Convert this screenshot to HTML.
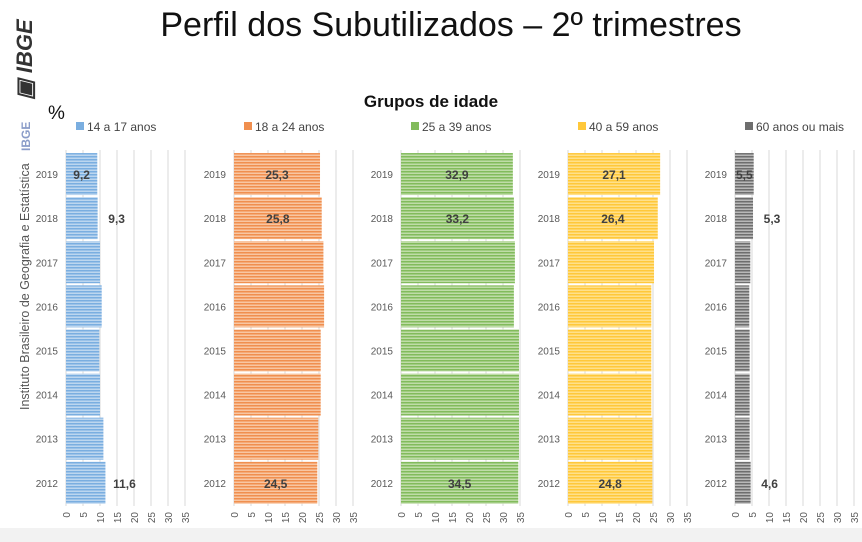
<!DOCTYPE html>
<html><head><meta charset="utf-8">
<style>
body{margin:0;width:862px;height:542px;overflow:hidden;background:#fff;font-family:"Liberation Sans",sans-serif;}
div{position:absolute;z-index:2;}
#title{left:0;width:862px;top:6px;text-align:center;font-size:34px;color:#111;padding-left:40px;box-sizing:border-box;}
#side{left:18px;top:410px;transform-origin:0 0;transform:rotate(-90deg);font-size:12.5px;color:#555;white-space:nowrap;}
#ibge2{left:19px;top:151px;transform-origin:0 0;transform:rotate(-90deg);font-size:12px;color:#8a9cc8;font-weight:bold;}
#logo{left:12px;top:100px;font-size:22px;font-weight:bold;font-style:italic;color:#333;transform:rotate(-90deg);transform-origin:0 0;white-space:nowrap;}
svg{position:absolute;left:0;top:0;z-index:1;}
</style></head><body>
<svg id="chart" width="862" height="542"></svg>
<div id="title">Perfil dos Subutilizados – 2º trimestres</div>
<div id="logo">▣ IBGE</div>
<div id="ibge2">IBGE</div>
<div id="side">Instituto Brasileiro de Geografia e Estatística</div>
<script>
const years=["2019","2018","2017","2016","2015","2014","2013","2012"];
const groups=["14 a 17 anos","18 a 24 anos","25 a 39 anos","40 a 59 anos","60 anos ou mais"];
const v1=[9.2,9.3,10.0,10.5,9.8,10.0,11.0,11.6];
const v2=[25.3,25.8,26.3,26.5,25.5,25.5,24.8,24.5];
const v3=[32.9,33.2,33.5,33.2,34.7,34.7,34.7,34.5];
const v4=[27.1,26.4,25.3,24.5,24.5,24.5,24.8,24.8];
const v5=[5.5,5.3,4.5,4.2,4.3,4.3,4.3,4.6];
const series=[v1,v2,v3,v4,v5];
const ticks=[0,5,10,15,20,25,30,35];
const labeled={0:"in",1:"out",7:"out"};
const colors=[["#7aaee0","#bcd6ef"],["#f08f4f","#f8c6a2"],["#82bb5c","#bfdca8"],["#ffc83a","#ffe08a"],["#6e6e6e","#b8b8b8"]];
const NS="http://www.w3.org/2000/svg";
const svg=document.getElementById('chart');
function mk(t,a,p){const e=document.createElementNS(NS,t);for(const k in a)e.setAttribute(k,a[k]);(p||svg).appendChild(e);return e;}
mk('rect',{x:0,y:528,width:862,height:14,fill:'#f2f2f2'});
mk('rect',{x:30,y:88,width:832,height:440,fill:'#fff'});
const pct=mk('text',{x:48,y:119,'font-size':19,fill:'#111'});pct.textContent='%';
const gt=mk('text',{x:431,y:107,'font-size':17,'font-weight':'bold','text-anchor':'middle',fill:'#111'});gt.textContent='Grupos de idade';
const defs=mk('defs',{});
colors.forEach((c,i)=>{const p=mk('pattern',{id:'p'+i,width:4,height:3,patternUnits:'userSpaceOnUse'},defs);
mk('rect',{width:4,height:3,fill:c[1]},p);mk('rect',{width:4,height:1.5,fill:c[0]},p);});
const px0=[66,234,401,568,735],scale=3.4;
const yTop=152,step=44.1,bh=42;
function xs(g,v){return px0[g]+v*scale;}
function yc(i){return yTop+step*i+step/2;}
groups.forEach((g,gi)=>{
  const grp=mk('g',{});
  
  
  mk('rect',{x:px0[gi]+10,y:122,width:8,height:8,fill:colors[gi][0]},grp);
  const lt=mk('text',{x:px0[gi]+21,y:131,'font-size':12,fill:'#444'},grp);lt.textContent=g;
  
  
  ticks.forEach(t=>{
    mk('line',{x1:xs(gi,t),x2:xs(gi,t),y1:150,y2:506,stroke:'#d9d9d9','stroke-width':1},grp);
    const tx=mk('text',{transform:`translate(${xs(gi,t)+4},${512}) rotate(-90)`,'font-size':10,fill:'#595959','text-anchor':'end'},grp);tx.textContent=t;
  });
  years.forEach((y,i)=>{
    const yl=mk('text',{x:px0[gi]-8,y:yc(i)+4,'font-size':10,fill:'#595959','text-anchor':'end'},grp);yl.textContent=y;
    const v=series[gi][i];
    const r=mk('rect',{x:px0[gi],y:yc(i)-bh/2,width:v*scale,height:bh,fill:'url(#p'+gi+')'},grp);
    
    
    if(i in labeled){
      let x;
      if((gi===0||gi===4)&&labeled[i]==='out') x=xs(gi,v)+19; else x=xs(gi,v/2);
      const vt=mk('text',{x:x,y:yc(i)+5,'font-size':12,'font-weight':'bold',fill:'#404040','text-anchor':'middle'},grp);
      vt.textContent=v.toFixed(1).replace('.',',');
    }
  });
});
</script>
</body></html>
